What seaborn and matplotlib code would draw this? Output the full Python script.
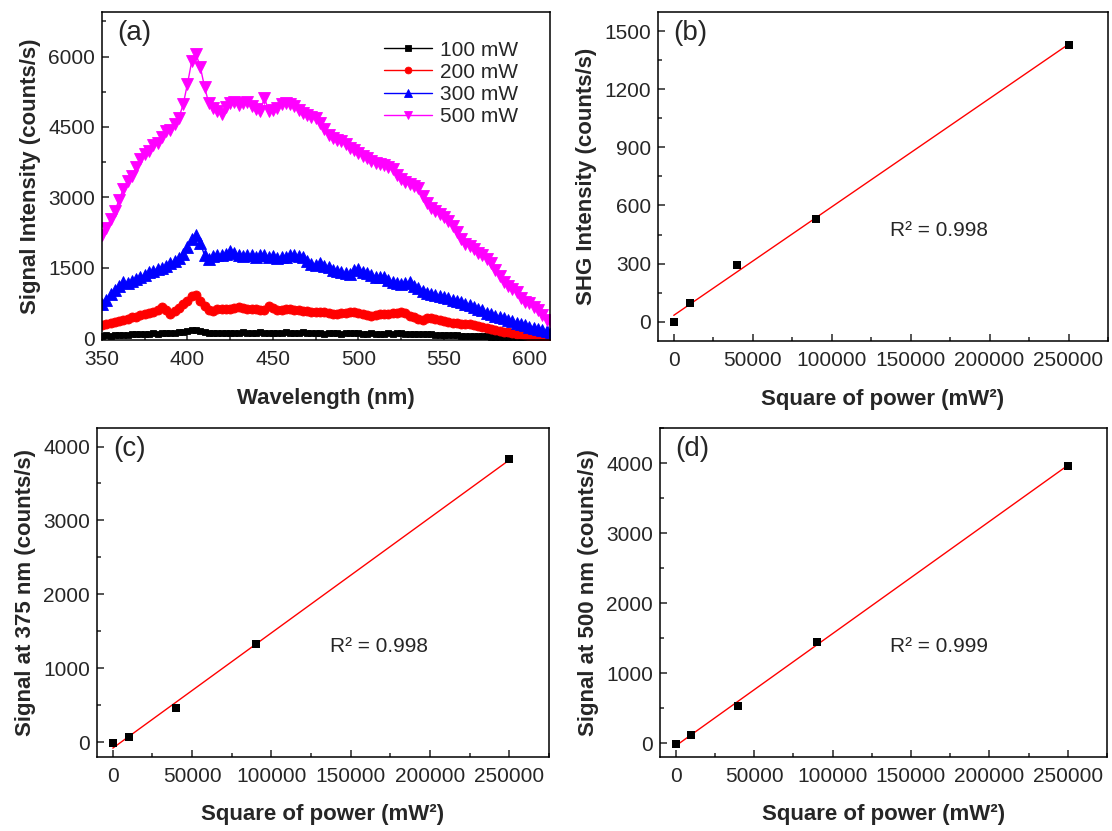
import numpy as np
import matplotlib
matplotlib.use('Agg')
import matplotlib.pyplot as plt
from matplotlib.ticker import MultipleLocator
import seaborn as sns

# spectra, panel (a)
wavelength = np.arange(350, 613, 2.5)

p100 = [50, 60, 55, 70, 65, 75, 70, 80, 85, 80, 90, 95, 100, 95, 110, 100, 105, 115, 120, 130,
        150, 170, 175, 150, 120, 110, 105, 115, 110, 100, 115, 110, 105, 120, 115, 100, 110, 120, 115, 105,
        100, 110, 115, 120, 110, 105, 115, 120, 110, 100, 105, 110, 95, 100, 110, 105, 95, 100, 110, 105,
        100, 95, 90, 100, 85, 90, 95, 100, 90, 110, 105, 95, 90, 85, 80, 90, 85, 80, 75, 70,
        72, 65, 60, 62, 55, 50, 52, 45, 40, 38, 35, 30, 28, 25, 22, 20, 18, 15, 12, 10,
        8, 6, 5, 3, 2, 0]

p200 = [270, 300, 330, 350, 360, 380, 400, 440, 460, 500, 520, 540, 560, 600, 660, 590, 520, 580, 650, 720,
        800, 900, 910, 800, 680, 600, 580, 610, 630, 620, 630, 650, 660, 640, 620, 630, 610, 590, 600, 680,
        650, 600, 590, 620, 630, 600, 590, 580, 570, 560, 550, 560, 550, 530, 520, 520, 530, 540, 550, 560,
        540, 520, 500, 480, 490, 510, 520, 520, 530, 540, 560, 530, 480, 450, 400, 380, 420, 430, 410, 390,
        360, 340, 330, 320, 310, 300, 290, 280, 260, 240, 210, 190, 170, 150, 140, 120, 100, 90, 80, 70,
        55, 45, 35, 25, 15, 5]

p300 = [730, 820, 930, 1030, 1120, 1190, 1180, 1220, 1260, 1300, 1350, 1400, 1440, 1480, 1500, 1540, 1590, 1640, 1700, 1800,
        1950, 2120, 2200, 2030, 1760, 1680, 1740, 1760, 1770, 1800, 1860, 1820, 1760, 1740, 1770, 1760, 1730, 1770, 1760, 1720,
        1740, 1700, 1730, 1720, 1760, 1770, 1750, 1720, 1640, 1580, 1560, 1590, 1540, 1510, 1460, 1440, 1410, 1380, 1370, 1450,
        1480, 1410, 1380, 1350, 1310, 1300, 1310, 1240, 1190, 1170, 1160, 1180, 1200, 1120, 1060, 1000, 960, 940, 920, 900,
        870, 850, 820, 790, 760, 730, 700, 660, 630, 590, 540, 510, 480, 450, 420, 390, 360, 330, 300, 270,
        240, 220, 200, 180, 150, 130]

p500 = [2200, 2340, 2530, 2700, 2950, 3180, 3340, 3460, 3640, 3820, 3930, 3990, 4120, 4150, 4280, 4410, 4440, 4560, 4700, 4980,
        5420, 5900, 6050, 5780, 5350, 5000, 4900, 4830, 4780, 4920, 5000, 5040, 4960, 5010, 5030, 4950, 4890, 4840, 5120, 4850,
        4860, 4910, 4980, 5020, 4980, 4950, 4870, 4800, 4760, 4720, 4680, 4580, 4460, 4330, 4260, 4230, 4190, 4130, 4060, 4010,
        3950, 3890, 3830, 3770, 3740, 3700, 3680, 3650, 3600, 3480, 3380, 3330, 3280, 3240, 3200, 3030, 2880, 2780, 2700, 2640,
        2570, 2500, 2380, 2260, 2120, 2000, 1960, 1900, 1820, 1760, 1690, 1600, 1460, 1320, 1200, 1100, 1040, 980, 850, 770,
        740, 670, 600, 500, 390, 340]

spectra = [('100 mW', p100, 'black', 's', 5),
           ('200 mW', p200, 'red', 'o', 6.5),
           ('300 mW', p300, 'blue', '^', 8),
           ('500 mW', p500, 'magenta', 'v', 8)]

# power dependence, panels (b)-(d)
power_sq = [0, 10000, 40000, 90000, 250000]
shg_int = [0, 98, 290, 529, 1430]
sig_375 = [-10, 68, 465, 1333, 3828]
sig_500 = [-10, 119, 530, 1446, 3962]

sns.set_style('ticks')
plt.rcParams['font.family'] = ['Liberation Sans', 'DejaVu Sans']
plt.rcParams['axes.linewidth'] = 1.1

fig = plt.figure(figsize=(11.12, 8.31), dpi=100)
ax_a = fig.add_axes([0.0917, 0.5909, 0.4029, 0.3947])
ax_b = fig.add_axes([0.5917, 0.5897, 0.4047, 0.3959])
ax_c = fig.add_axes([0.0872, 0.0890, 0.4065, 0.3959])
ax_d = fig.add_axes([0.5935, 0.0890, 0.4020, 0.3959])


def style_axis(ax, xmaj, xmin, ymaj, ymin):
    ax.xaxis.set_major_locator(MultipleLocator(xmaj))
    ax.xaxis.set_minor_locator(MultipleLocator(xmin))
    ax.yaxis.set_major_locator(MultipleLocator(ymaj))
    ax.yaxis.set_minor_locator(MultipleLocator(ymin))
    ax.tick_params(which='both', direction='in', top=False, right=False, labelsize=15, width=1.1)
    ax.tick_params(which='major', length=5)
    ax.tick_params(which='minor', length=3)
    ax.tick_params(axis='x', pad=7)
    ax.tick_params(axis='y', pad=5)
    for s in ax.spines.values():
        s.set_visible(True)
        s.set_color('black')


# Panel (a)
for name, vals, col, mk, ms in spectra:
    sns.lineplot(x=wavelength, y=vals, ax=ax_a, color=col, marker=mk, markersize=ms,
                 markeredgewidth=0.6, markeredgecolor=col, linewidth=1, label=name)
ax_a.set_xlim(350, 612)
ax_a.set_ylim(-40, 6950)
style_axis(ax_a, 50, 25, 1500, 750)
ax_a.set_xlabel('Wavelength (nm)', fontsize=16, fontweight='bold', labelpad=14)
ax_a.set_ylabel('Signal Intensity (counts/s)', fontsize=16, fontweight='bold', labelpad=5)
ax_a.legend(loc='upper right', bbox_to_anchor=(0.97, 0.97), frameon=False, fontsize=15,
            handlelength=2.3, handletextpad=0.35, labelspacing=0.15, numpoints=1, markerscale=0.75)
ax_a.text(0.035, 0.975, '(a)', transform=ax_a.transAxes, fontsize=20, va='top', ha='left')

# Panels (b)-(d)
panels = [(ax_b, shg_int, 'SHG Intensity (counts/s)', (-100, 1600), 300, 150, '(b)', 'R² = 0.998', 14),
          (ax_c, sig_375, 'Signal at 375 nm (counts/s)', (-200, 4250), 1000, 500, '(c)', 'R² = 0.998', 13),
          (ax_d, sig_500, 'Signal at 500 nm (counts/s)', (-200, 4500), 1000, 500, '(d)', 'R² = 0.999', 13)]

for ax, yv, ylab, ylim, ymaj, ymin, tag, r2, xpad in panels:
    sns.regplot(x=power_sq, y=yv, ax=ax, ci=None, marker='s', color='black',
                scatter_kws={'s': 30, 'linewidths': 0, 'alpha': 1, 'zorder': 3},
                line_kws={'color': 'red', 'lw': 1, 'zorder': 2})
    ax.set_xlim(-10000, 275000)
    ax.set_ylim(*ylim)
    style_axis(ax, 50000, 25000, ymaj, ymin)
    ax.set_xlabel('Square of power (mW²)', fontsize=16, fontweight='bold', labelpad=xpad)
    ax.set_ylabel(ylab, fontsize=16, fontweight='bold', labelpad=5)
    ax.text(0.035, 0.975, tag, transform=ax.transAxes, fontsize=20, va='top', ha='left')
    ax.text(0.515, 0.335, r2, transform=ax.transAxes, fontsize=15, va='center', ha='left')

fig.savefig('out.png', dpi=100)
